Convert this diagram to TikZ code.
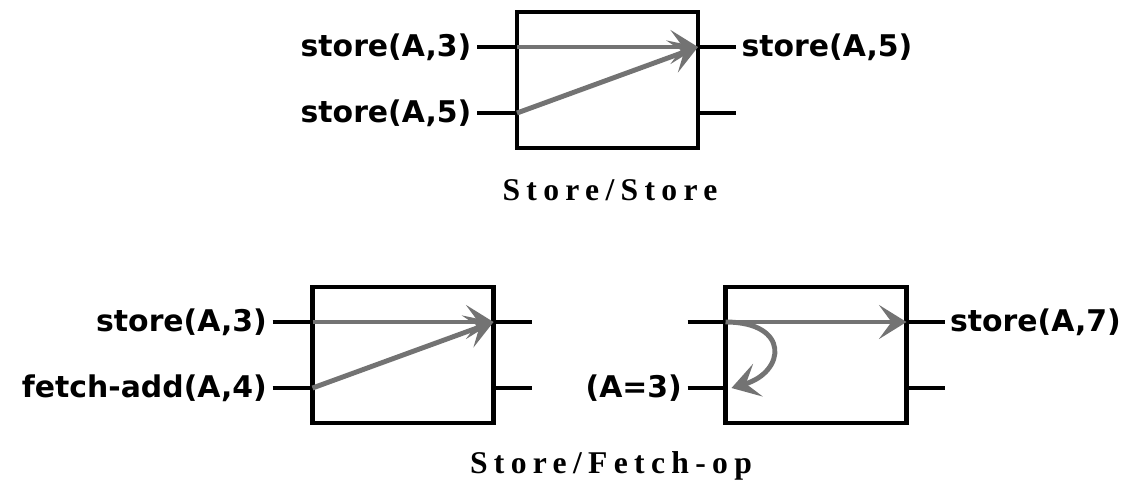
\documentclass[tikz,border=0pt]{standalone}
\usepackage{fontspec}
\usetikzlibrary{arrows.meta}
\newfontfamily\chicagofont{DejaVu Sans}
\newfontfamily\legendfont{Liberation Serif}[LetterSpace=20]
\tikzset{
	unit/.style={draw, line width=2.8pt, minimum width=3.62cm, minimum height=2.72cm, inner sep=0pt, outer sep=0pt},
	wire/.style={line width=2.8pt},
	port/.style={font=\chicagofont\bfseries\fontsize{17}{20}\selectfont, inner sep=3pt},
	flow/.style={line width=2.8pt, draw=black!55, -{Stealth[length=0.55cm, width=0.68cm, inset=0.25cm]}},
	legend/.style={font=\legendfont\bfseries\fontsize{18}{21}\selectfont},
}
\begin{document}
\begin{tikzpicture}
	\useasboundingbox (0,0) rectangle (22.74,-9.78);
	% Store/Store
	\node[unit] (ss) at (12.15,-1.6) {};
	\coordinate (ss-i1) at ([yshift=0.66cm]ss.west);
	\coordinate (ss-i2) at ([yshift=-0.66cm]ss.west);
	\coordinate (ss-o1) at ([yshift=0.66cm]ss.east);
	\coordinate (ss-o2) at ([yshift=-0.66cm]ss.east);
	\node[port, anchor=east] (ss-l1) at ([xshift=-0.8cm]ss-i1) {store(A,3)};
	\node[port, anchor=east] (ss-l2) at ([xshift=-0.8cm]ss-i2) {store(A,5)};
	\node[port, anchor=west] (ss-r1) at ([xshift=0.76cm]ss-o1) {store(A,5)};
	\coordinate (ss-r2) at ([xshift=0.76cm]ss-o2);
	\draw[wire] (ss-l1.east)--(ss-i1) (ss-l2.east)--(ss-i2) (ss-o1)--(ss-r1.west) (ss-o2)--(ss-r2);
	\draw[flow] (ss-i1)--(ss-o1);
	\draw[flow] (ss-i2)--(ss-o1);
	\node[legend] (ss-cap) at (12.2,-3.8) {Store/Store};
	% Store/Fetch-op
	\node[unit] (sf) at (8.06,-7.1) {};
	\coordinate (sf-i1) at ([yshift=0.66cm]sf.west);
	\coordinate (sf-i2) at ([yshift=-0.66cm]sf.west);
	\coordinate (sf-o1) at ([yshift=0.66cm]sf.east);
	\coordinate (sf-o2) at ([yshift=-0.66cm]sf.east);
	\node[port, anchor=east] (sf-l1) at ([xshift=-0.8cm]sf-i1) {store(A,3)};
	\node[port, anchor=east] (sf-l2) at ([xshift=-0.8cm]sf-i2) {fetch-add(A,4)};
	\coordinate (sf-r1) at ([xshift=0.76cm]sf-o1);
	\coordinate (sf-r2) at ([xshift=0.76cm]sf-o2);
	\draw[wire] (sf-l1.east)--(sf-i1) (sf-l2.east)--(sf-i2) (sf-o1)--(sf-r1) (sf-o2)--(sf-r2);
	\draw[flow] (sf-i1)--(sf-o1);
	\draw[flow] (sf-i2)--(sf-o1);
	\node[unit] (sr) at (16.32,-7.1) {};
	\coordinate (sr-i1) at ([yshift=0.66cm]sr.west);
	\coordinate (sr-i2) at ([yshift=-0.66cm]sr.west);
	\coordinate (sr-o1) at ([yshift=0.66cm]sr.east);
	\coordinate (sr-o2) at ([yshift=-0.66cm]sr.east);
	\coordinate (sr-l1) at ([xshift=-0.76cm]sr-i1);
	\node[port, anchor=east] (sr-l2) at ([xshift=-0.76cm]sr-i2) {(A=3)};
	\node[port, anchor=west] (sr-r1) at ([xshift=0.76cm]sr-o1) {store(A,7)};
	\coordinate (sr-r2) at ([xshift=0.76cm]sr-o2);
	\draw[wire] (sr-l1)--(sr-i1) (sr-l2.east)--(sr-i2) (sr-o1)--(sr-r1.west) (sr-o2)--(sr-r2);
	\draw[flow] (sr-i1)--(sr-o1);
	\draw[flow] (sr-i1) .. controls +(1.3,0) and +(1.08,0.32) .. ([xshift=0.12cm]sr-i2);
	\node[legend] (sf-cap) at (12.22,-9.32) {Store/Fetch-op};
\end{tikzpicture}
\end{document}
